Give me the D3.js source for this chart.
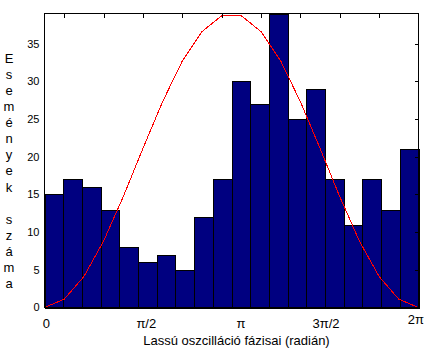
<!DOCTYPE html>
<html><head><meta charset="utf-8">
<script src="https://cdn.jsdelivr.net/npm/d3@7/dist/d3.min.js"></script>
<style>
body{margin:0;background:#fff;}
svg{display:block;font-family:"Liberation Sans",Arial,sans-serif;}
</style></head>
<body><svg id="c" width="434" height="358"></svg>
<script>
// histogram counts, 20 bins over [0, 2π]
const counts = [15, 17, 16, 13, 8, 6, 7, 5, 12, 17, 30, 27, 39, 25, 29, 17, 11, 17, 13, 21];
// red curve, sampled at index 1..20
const curveIdx = [1,2,3,4,5,6,7,8,9,10,11,12,13,14,15,16,17,18,19,20];
const curveVal = [0, 1.1, 4.1, 8.8, 14.7, 21.1, 27.3, 32.7, 36.6, 38.7, 38.7, 36.6, 32.7, 27.3, 21.1, 14.7, 8.8, 4.1, 1.1, 0];
// axis tick labels (bottom), positions in radians as read
const xTickLabels = ["0", "π/2", "π", "3π/2", "2π"];
const xTickPos = [0.03, 1.71, 3.30, 4.73, 6.24];
const yTicks = [0, 5, 10, 15, 20, 25, 30, 35];
const topTicks = [2, 4, 6, 8, 10, 12, 14, 16, 18];
const rightTicks = [5, 10, 15, 20, 25, 30, 35];
const yLabel = "Események száma";
const xLabel = "Lassú oszcilláció fázisai (radián)";

const svg = d3.select("#c");
const L = 44.5, R = 418.5, T = 13.5, B = 307.5;
const TWO_PI = 2 * Math.PI;
const x = d3.scaleLinear().domain([0, TWO_PI]).range([L, R]);
const y = d3.scaleLinear().domain([0, 39]).range([B, T]);
const x2 = d3.scaleLinear().domain([1, 20]).range([L, R]);

const bw = TWO_PI / counts.length;
svg.append("g").selectAll("rect").data(counts).join("rect")
  .attr("x", (d, i) => Math.round(x(i * bw)) + 0.5)
  .attr("y", d => Math.round(y(d)) + 0.5)
  .attr("width", (d, i) => Math.round(x((i + 1) * bw)) - Math.round(x(i * bw)))
  .attr("height", d => Math.round(y(0)) - Math.round(y(d)))
  .attr("fill", "#000080").attr("stroke", "#000").attr("stroke-width", 1)
  .attr("shape-rendering", "crispEdges");

const line = d3.line().x((d, i) => x2(curveIdx[i])).y(d => y(d));
svg.append("path").datum(curveVal).attr("d", line)
  .attr("fill", "none").attr("stroke", "#ff0000").attr("stroke-width", 1)
  .attr("shape-rendering", "crispEdges");

// box
svg.append("rect").attr("x", L).attr("y", T).attr("width", R - L).attr("height", B - T)
  .attr("fill", "none").attr("stroke", "#000").attr("shape-rendering", "crispEdges");

// top ticks (secondary axis)
svg.append("g").selectAll("line").data(topTicks).join("line")
  .attr("x1", d => Math.round(x2(d)) + 0.5).attr("x2", d => Math.round(x2(d)) + 0.5)
  .attr("y1", T).attr("y2", T + 4).attr("stroke", "#000").attr("shape-rendering", "crispEdges");
// right ticks
svg.append("g").selectAll("line").data(rightTicks).join("line")
  .attr("y1", d => Math.round(y(d)) + 0.5).attr("y2", d => Math.round(y(d)) + 0.5)
  .attr("x1", R - 4).attr("x2", R).attr("stroke", "#000").attr("shape-rendering", "crispEdges");

// y tick labels
svg.append("g").selectAll("text").data(yTicks).join("text")
  .attr("x", 39.5).attr("y", d => y(d)).attr("dy", "0.36em")
  .attr("text-anchor", "end").attr("font-size", 11).text(d => d);

// x tick labels
svg.append("g").selectAll("text").data(xTickLabels).join("text")
  .attr("x", (d, i) => x(xTickPos[i])).attr("y", (d, i) => i === 4 ? 324 : 328)
  .attr("text-anchor", "middle").attr("font-size", 13).text(d => d);

// x label
svg.append("text").attr("x", 236.5).attr("y", 345).attr("text-anchor", "middle")
  .attr("font-size", 13).text(xLabel);

// y label stacked letters
svg.append("g").selectAll("text").data(Array.from(yLabel)).join("text")
  .attr("x", 9).attr("y", (d, i) => 63 + i * 16.07)
  .attr("text-anchor", "middle").attr("font-size", 13).text(d => d);
</script></body></html>
